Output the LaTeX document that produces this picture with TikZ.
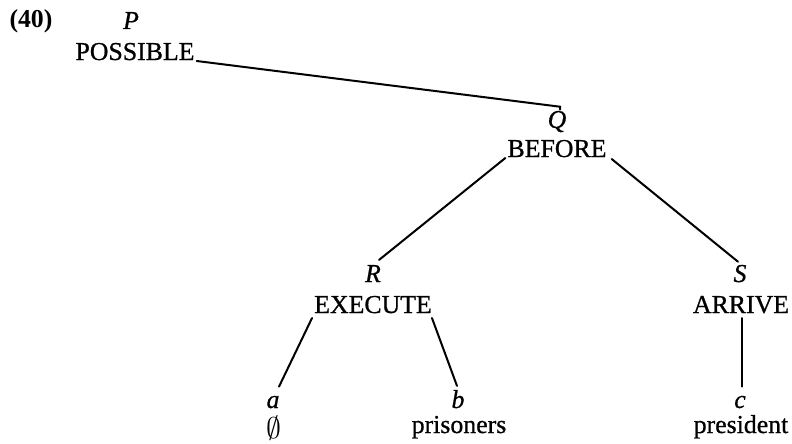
\documentclass[tikz,border=0pt]{standalone}
\usepackage{fontspec}
\setmainfont{Liberation Serif}[UprightFeatures={FakeBold=0.8},ItalicFeatures={FakeBold=0.8}]
\usetikzlibrary{calc}
\begin{document}
\begin{tikzpicture}[x=1pt,y=-1pt,
  lab/.style={anchor=base,inner sep=0pt,font=\fontsize{25.8}{30}\selectfont},
  var/.style={lab,font=\fontsize{25.8}{30}\selectfont\itshape},
  edge/.style={line width=2pt,line cap=round}]
\useasboundingbox (0,0) rectangle (792,444);
\node[lab] (num) at (31,28) {\bfseries (40)};
\node[var] (p) at (131,29) {P};
\node[lab] (poss) at (135,60) {POSSIBLE};
\node[var] (q) at (557,128) {Q};
\node[lab] (before) at (557,157) {BEFORE};
\node[var] (r) at (373,282) {R};
\node[lab] (exec) at (373,313) {EXECUTE};
\node[var] (s) at (740,282) {S};
\node[lab] (arrive) at (741,313) {ARRIVE};
\node[var] (a) at (273,408) {a};
\node[lab] (empty) at (274,438) {\raisebox{0pt}[16pt][1pt]{\scalebox{1.2}{$\emptyset$}}};
\node[var] (b) at (458,408) {b};
\node[lab] (pris) at (459,433) {prisoners};
\node[var] (c) at (740,408) {c};
\node[lab] (pres) at (741,433) {president};
\draw[edge] ($(poss.base east)+(2,1)$) -- ($(q.north)+(3,-4)$) -- ++(0,3);
\draw[edge] ($(before.base west)+(-2,1)$) -- ($(r.north east)+(-2,-5)$);
\draw[edge] ($(before.base east)+(5,2)$) -- ($(s.north)+(-2,-3)$);
\draw[edge] ($(exec.base west)+(-2,5)$) -- ($(a.north)+(6,-9)$);
\draw[edge] ($(exec.base east)+(0,5)$) -- ($(b.north)+(-1,-4)$);
\draw[edge] ($(arrive.base)+(1,5)$) -- ($(c.north)+(2,-9)$);
\end{tikzpicture}
\end{document}
